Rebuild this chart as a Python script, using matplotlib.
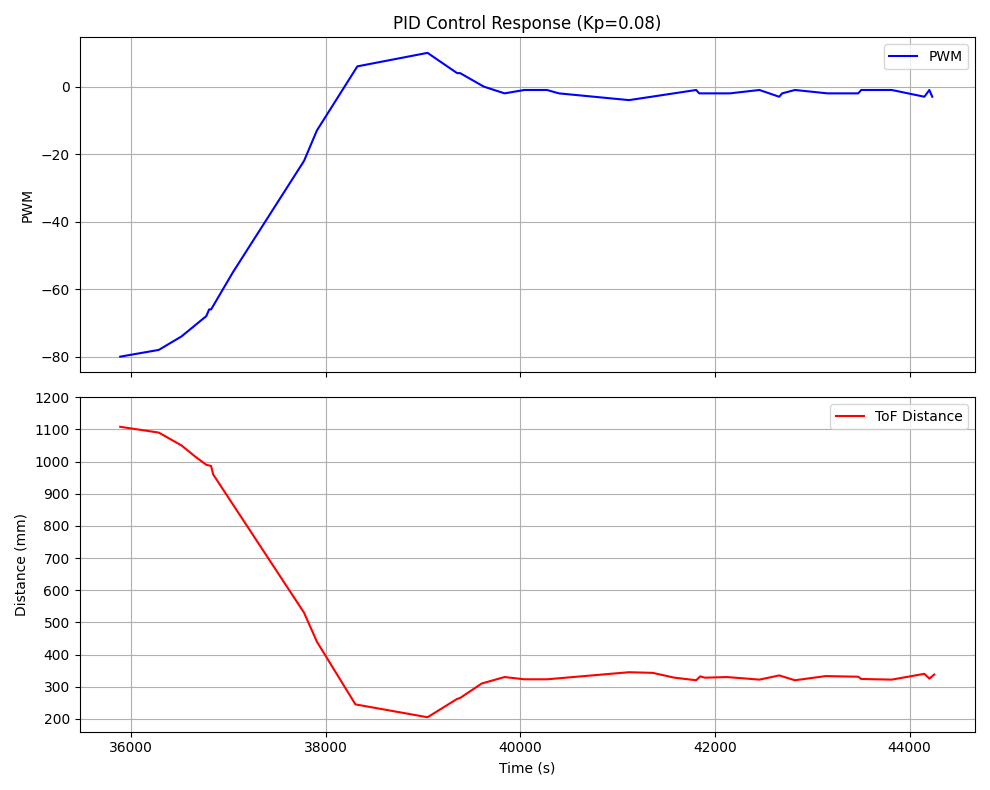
import matplotlib
matplotlib.use("Agg")
import matplotlib.pyplot as plt

pwm_time = [35888, 36284, 36518, 36772, 36802, 36822, 37046, 37777, 37909, 38325, 39046, 39350, 39381,
            39624, 39838, 40041, 40274, 40396, 41117, 41807, 41838, 42152, 42457, 42660, 42690, 42822,
            43157, 43472, 43503, 43817, 44152, 44203, 44233]
pwm = [-80, -78, -74, -68, -66, -66, -55, -22, -13, 6, 10, 4, 4,
       0, -2, -1, -1, -2, -4, -1, -2, -2, -1, -3, -2, -1,
       -2, -2, -1, -1, -3, -1, -3]

tof_time = [35888, 36284, 36518, 36660, 36772, 36822, 36843, 37777, 37909, 38305, 39046, 39350, 39381,
            39604, 39838, 40041, 40274, 41117, 41360, 41584, 41807, 41848, 41898, 42122, 42457, 42660,
            42822, 43137, 43472, 43503, 43817, 44152, 44203, 44254]
tof = [1108, 1090, 1050, 1015, 990, 986, 960, 530, 440, 245, 205, 262, 265,
       310, 330, 323, 323, 345, 343, 328, 320, 332, 328, 330, 322, 335,
       320, 333, 331, 324, 322, 340, 325, 338]

fig, (ax1, ax2) = plt.subplots(2, 1, figsize=(9.9, 7.9), dpi=100, sharex=True)
ax1.plot(pwm_time, pwm, color="blue", label="PWM")
ax1.set_ylabel("PWM")
ax1.set_title("PID Control Response (Kp=0.08)")
ax1.set_ylim(-84.5, 14.6)
ax1.grid(True)
ax1.legend(loc="upper right")

ax2.plot(tof_time, tof, color="red", label="ToF Distance")
ax2.set_ylabel("Distance (mm)")
ax2.set_xlabel("Time (s)")
ax2.set_ylim(160, 1200)
ax2.set_yticks(range(200, 1201, 100))
ax2.grid(True)
ax2.legend(loc="upper right")

fig.tight_layout()
fig.savefig("out.png")
